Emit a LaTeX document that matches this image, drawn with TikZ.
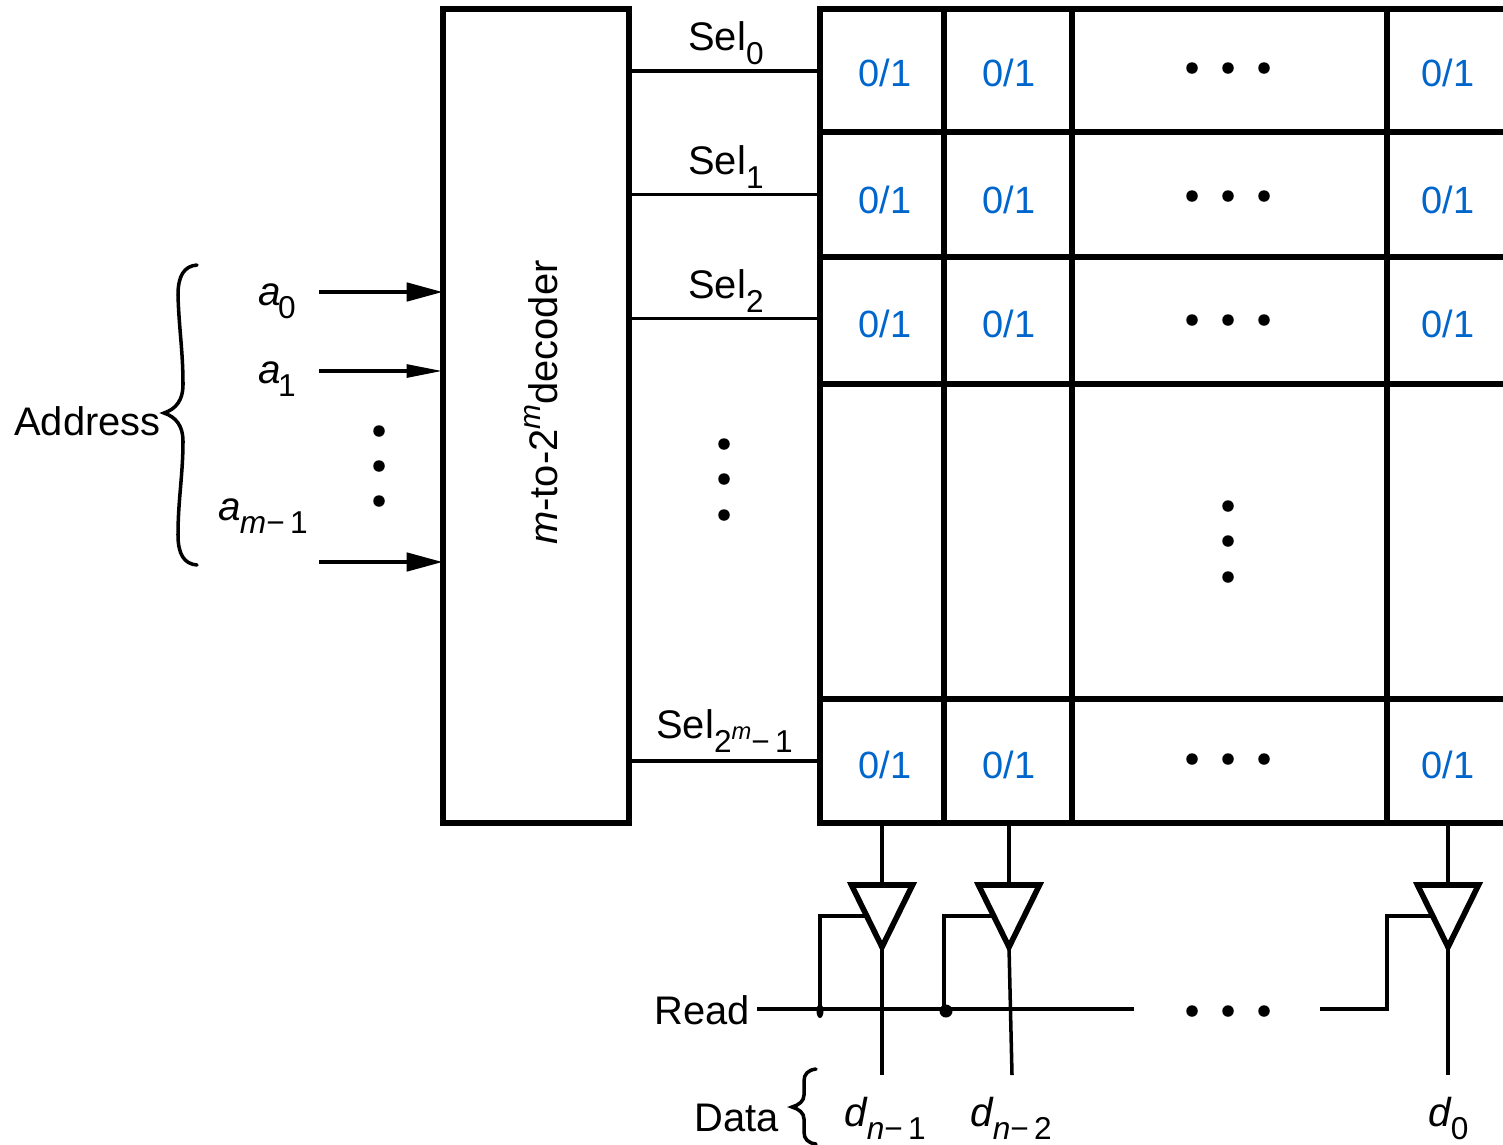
\documentclass[tikz,border=0pt]{standalone}
\usepackage{fontspec}
\setmainfont{Liberation Sans}
\usetikzlibrary{arrows.meta,shapes.geometric}
\definecolor{ramblue}{RGB}{0,102,204}
\newcommand{\subtxt}[1]{\raisebox{-0.36em}{\fontsize{18}{18}\selectfont #1}}
\newcommand{\subitx}[1]{\raisebox{-0.34em}{\fontsize{18}{18}\selectfont #1}}

\begin{document}
\begin{tikzpicture}[x=0.02cm,y=-0.02cm,
  ramcell/.style={draw,line width=3.4pt,inner sep=0pt},
  ramtext/.style={anchor=base west,inner sep=0pt,font=\fontsize{22.7}{26}\selectfont},
  rammath/.style={ramtext,font=\fontsize{23}{27}\selectfont\itshape},
  rambit/.style={ramtext,text=ramblue,font=\fontsize{21.6}{25}\selectfont},
  rambuf/.style={draw,line width=3.2pt,isosceles triangle,isosceles triangle apex angle=54,
    isosceles triangle stretches,shape border rotate=270,inner sep=0pt,outer sep=0pt,anchor=apex,
    minimum height=1.24cm,minimum width=1.22cm},
  ramwire/.style={line width=2pt},
  ramarr/.style={line width=2.2pt,shorten >=-1.5pt,-{Triangle[length=20.5pt,width=10.4pt]}},
  ramarrthin/.style={line width=2.2pt,shorten >=-1.5pt,-{Triangle[length=20.5pt,width=7.2pt]}},
  rambrace/.style={line width=2pt,line cap=round}
]
  \useasboundingbox (0,0) rectangle (1503,1144);
  % Decoder
  \node[draw,line width=3.4pt,minimum width=3.72cm,minimum height=16.28cm] (dec) at (536,416) {};
  \node[ramtext,rotate=90] (declabel) at (557,545) {\textit{m}-to-2\raisebox{.42em}{\fontsize{17}{17}\selectfont\textit{m}}decoder};
  % Memory cells
  \foreach \cy/\ch/\r in {70.5/2.46/a,194.5/2.5/b,320.5/2.54/c,541.5/6.3/d,761/2.48/e}
    \foreach \cx/\cw/\c in {882/2.48/p,1008/2.56/q,1229.5/6.3/r,1452/2.6/s}
      \node[ramcell,minimum width=\cw cm,minimum height=\ch cm] (cell\r\c) at (\cx,\cy) {};
  % Stored bits
  \foreach \by/\r in {86/a,213/b,337/c,778/e}
    \foreach \bx/\c in {858/p,982/q,1421/s}
      \node[rambit] (bit\r\c) at (\bx,\by) {0/1};
  % Dots
  \foreach \dy in {68,196,320,759,1011}
    \foreach \dx in {1192,1228,1264}
      \fill (\dx,\dy) circle[radius=0.115cm];
  \foreach \dy in {431,466,501} \fill (379,\dy) circle[radius=0.115cm];
  \foreach \dy in {444,479,515} \fill (724,\dy) circle[radius=0.115cm];
  \foreach \dy in {506,541,577} \fill (1228,\dy) circle[radius=0.115cm];
  % Select lines
  \coordinate (selend0) at (817,71);
  \coordinate (selend1) at (817,194.5);
  \coordinate (selend2) at (817,318.5);
  \coordinate (selend3) at (817,761);
  \foreach \s in {0,1,2,3}
    \draw[ramwire] (dec.east |- selend\s) -- (selend\s);
  \node[ramtext] (sel0) at (688,50) {Sel\subtxt{0}};
  \node[ramtext] (sel1) at (688,174) {Sel\subtxt{1}};
  \node[ramtext] (sel2) at (688,298) {Sel\subtxt{2}};
  \node[ramtext] (sel3) at (656,738) {Sel\subtxt{2\raisebox{.42em}{\fontsize{13.5}{13.5}\selectfont\textit{m}}−\,1}};
  % Address inputs
  \node[ramtext] (addr) at (14,435) {Address};
  \node[rammath] (a0) at (258,305) {a\kern-1.5pt\subitx{\upshape 0}};
  \node[rammath] (a1) at (258,383) {a\kern-1.5pt\subitx{\upshape 1}};
  \node[rammath] (am) at (218,520) {a\kern-.5pt\subitx{m\upshape−\,1}};
  \coordinate (ain0) at (319,292);
  \coordinate (ain1) at (319,371);
  \coordinate (ain2) at (319,562);
  \draw[ramarr] (ain0) -- (ain0 -| dec.west);
  \draw[ramarrthin] (ain1) -- (ain1 -| dec.west);
  \draw[ramarr] (ain2) -- (ain2 -| dec.west);
  \draw[rambrace] (197,265) .. controls (184,266) and (178,276) .. (178,295)
    .. controls (179,330) and (183,350) .. (183,385)
    .. controls (183,400) and (176,409) .. (164,413)
    .. controls (176,417) and (183,426) .. (183,441)
    .. controls (183,475) and (178,500) .. (178,535)
    .. controls (178,554) and (184,564) .. (197,565);
  % Tri-state buffers
  \node[rambuf] (buf0) at (882,947) {};
  \node[rambuf] (buf1) at (1009,947) {};
  \node[rambuf] (buf2) at (1448,947) {};
  \draw[ramwire] (buf0.apex |- cellep.south) -- (buf0.apex |- buf0.left corner);
  \draw[ramwire] (buf1.apex |- cellep.south) -- (buf1.apex |- buf1.left corner);
  \draw[ramwire] (buf2.apex |- cellep.south) -- (buf2.apex |- buf2.left corner);
  % Read line
  \node[ramtext] (read) at (654,1024) {Read};
  \coordinate (readtap0) at (820,1009);
  \coordinate (readtap1) at (944,1009);
  \coordinate (readgap0) at (1134,1009);
  \coordinate (readgap1) at (1320,1009);
  \coordinate (readtap2) at (1387,1009);
  \coordinate (readstart) at (757,1009);
  \draw[ramwire] (readstart) -- (readgap0);
  \draw[ramwire,line join=miter] (readgap1) -- (readtap2) |- (buf2.right side);
  \draw[ramwire] (readtap0) |- (buf0.right side);
  \draw[ramwire] (readtap1) |- (buf1.right side);
  \fill (readtap0) ++(0,2) ellipse[x radius=0.07cm,y radius=0.14cm];
  \fill (946,1011) circle[radius=0.13cm];
  % Data outputs
  \coordinate (dout0) at (882,1075);
  \coordinate (dout1) at (1012,1075);
  \coordinate (dout2) at (1448,1075);
  \draw[ramwire] (buf0.apex) -- (dout0);
  \draw[ramwire] (buf1.apex) -- (dout1);
  \draw[ramwire] (buf2.apex) -- (dout2);
  \node[ramtext] (data) at (694,1131) {Data};
  \node[rammath] (d1) at (844,1126) {d\subitx{n\upshape−\,1}};
  \node[rammath] (d2) at (970,1126) {d\subitx{n\upshape−\,2}};
  \node[rammath] (d0) at (1428,1126) {d\subitx{\upshape 0}};
  \draw[rambrace] (816,1069) .. controls (808,1070) and (804,1074) .. (804,1081)
    -- (804,1095) .. controls (804,1101) and (799,1105) .. (792,1107)
    .. controls (799,1109) and (804,1113) .. (804,1119)
    -- (804,1132) .. controls (804,1139) and (808,1143) .. (816,1144);
\end{tikzpicture}
\end{document}
